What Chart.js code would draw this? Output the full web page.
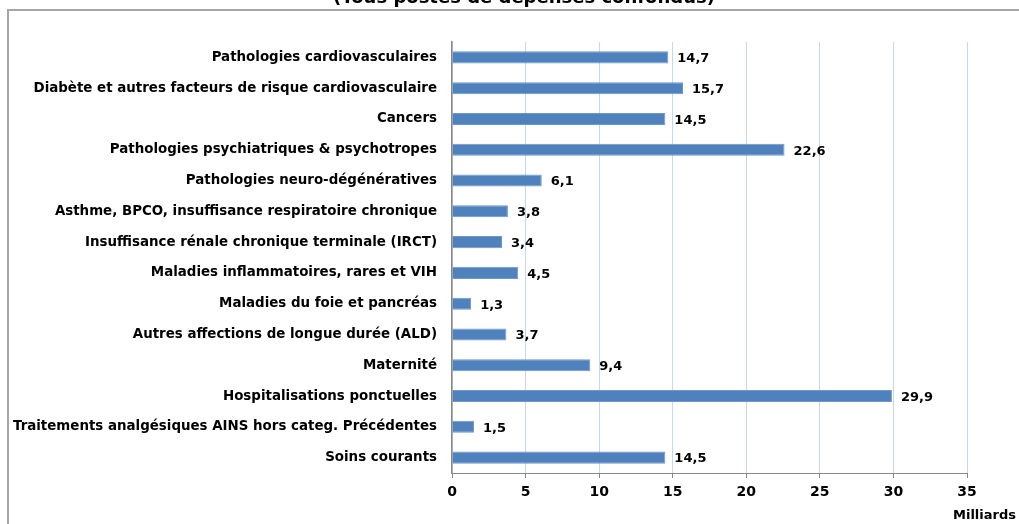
<!DOCTYPE html>
<html>
<head>
<meta charset="utf-8">
<script src="https://cdn.jsdelivr.net/npm/chart.js@4"></script>
<style>
  html, body { margin: 0; padding: 0; background: #fff; }
  #wrap { width: 1019px; height: 524px; }
</style>
</head>
<body>
<div id="wrap"><canvas id="chart" width="1019" height="524"></canvas></div>
<script>
const categories = [
    'Pathologies cardiovasculaires',
    'Diabète et autres facteurs de risque cardiovasculaire',
    'Cancers',
    'Pathologies psychiatriques & psychotropes',
    'Pathologies neuro-dégénératives',
    'Asthme, BPCO, insuffisance respiratoire chronique',
    'Insuffisance rénale chronique terminale (IRCT)',
    'Maladies inflammatoires, rares et VIH',
    'Maladies du foie et pancréas',
    'Autres affections de longue durée (ALD)',
    'Maternité',
    'Hospitalisations ponctuelles',
    'Traitements analgésiques AINS hors categ. Précédentes',
    'Soins courants'
];
const depenses = [14.7, 15.7, 14.5, 22.6, 6.1, 3.8, 3.4, 4.5, 1.3, 3.7, 9.4, 29.9, 1.5, 14.5];
const xTicks = [0, 5, 10, 15, 20, 25, 30, 35];
const titleText = '(Tous postes de dépenses confondus)';
const unitText = 'Milliards';

const FONT = '"DejaVu Sans", sans-serif';

// frame, cut-off title, value labels and unit
const extras = {
    id: 'extras',
    beforeDraw(chart) {
        const ctx = chart.ctx;
        ctx.save();
        ctx.strokeStyle = '#a6a6a6';
        ctx.lineWidth = 2;
        ctx.beginPath();
        ctx.moveTo(8, 530);
        ctx.lineTo(8, 10);
        ctx.lineTo(1025, 10);
        ctx.stroke();
        ctx.fillStyle = '#000';
        ctx.font = 'bold 18px ' + FONT;
        ctx.textAlign = 'center';
        ctx.textBaseline = 'alphabetic';
        ctx.fillText(titleText, 524, 3);
        ctx.restore();
    },
    afterDatasetsDraw(chart) {
        const ctx = chart.ctx;
        const meta = chart.getDatasetMeta(0);
        ctx.save();
        ctx.fillStyle = '#000';
        ctx.font = 'bold 13px ' + FONT;
        ctx.textAlign = 'left';
        ctx.textBaseline = 'middle';
        meta.data.forEach((bar, i) => {
            ctx.fillText(depenses[i].toFixed(1).replace('.', ','), bar.x + 9, bar.y + 1.5);
        });
        ctx.textAlign = 'right';
        ctx.fillText(unitText, 1016, 516);
        ctx.restore();
    }
};

new Chart(document.getElementById('chart').getContext('2d'), {
    type: 'bar',
    data: {
        labels: categories,
        datasets: [{
            data: depenses,
            backgroundColor: '#4f81bd',
            borderColor: '#6f97c9',
            borderWidth: 1,
            categoryPercentage: 0.8,
            barPercentage: 0.49
        }]
    },
    options: {
        indexAxis: 'y',
        responsive: false,
        animation: false,
        layout: { padding: { left: 0, right: 52, top: 42, bottom: 0 } },
        plugins: {
            legend: { display: false },
            tooltip: { enabled: false }
        },
        scales: {
            x: {
                min: 0,
                max: 35,
                afterBuildTicks(axis) { axis.ticks = xTicks.map(v => ({ value: v })); },
                afterFit(axis) { axis.height = 51; },
                grid: {
                    color: '#c9d6ec',
                    tickColor: '#888',
                    tickLength: 5,
                    drawOnChartArea: true
                },
                border: { color: '#888', width: 1 },
                ticks: {
                    color: '#000',
                    padding: 6,
                    font: { family: FONT, size: 14, weight: 'bold' }
                }
            },
            y: {
                afterFit(axis) { axis.width = 452; },
                grid: { display: false },
                border: { display: true, color: '#888', width: 1.5 },
                ticks: {
                    color: '#000',
                    padding: 7,
                    autoSkip: false,
                    font: { family: FONT, size: 13.4, weight: 'bold' }
                }
            }
        }
    },
    plugins: [extras]
});
</script>
</body>
</html>
